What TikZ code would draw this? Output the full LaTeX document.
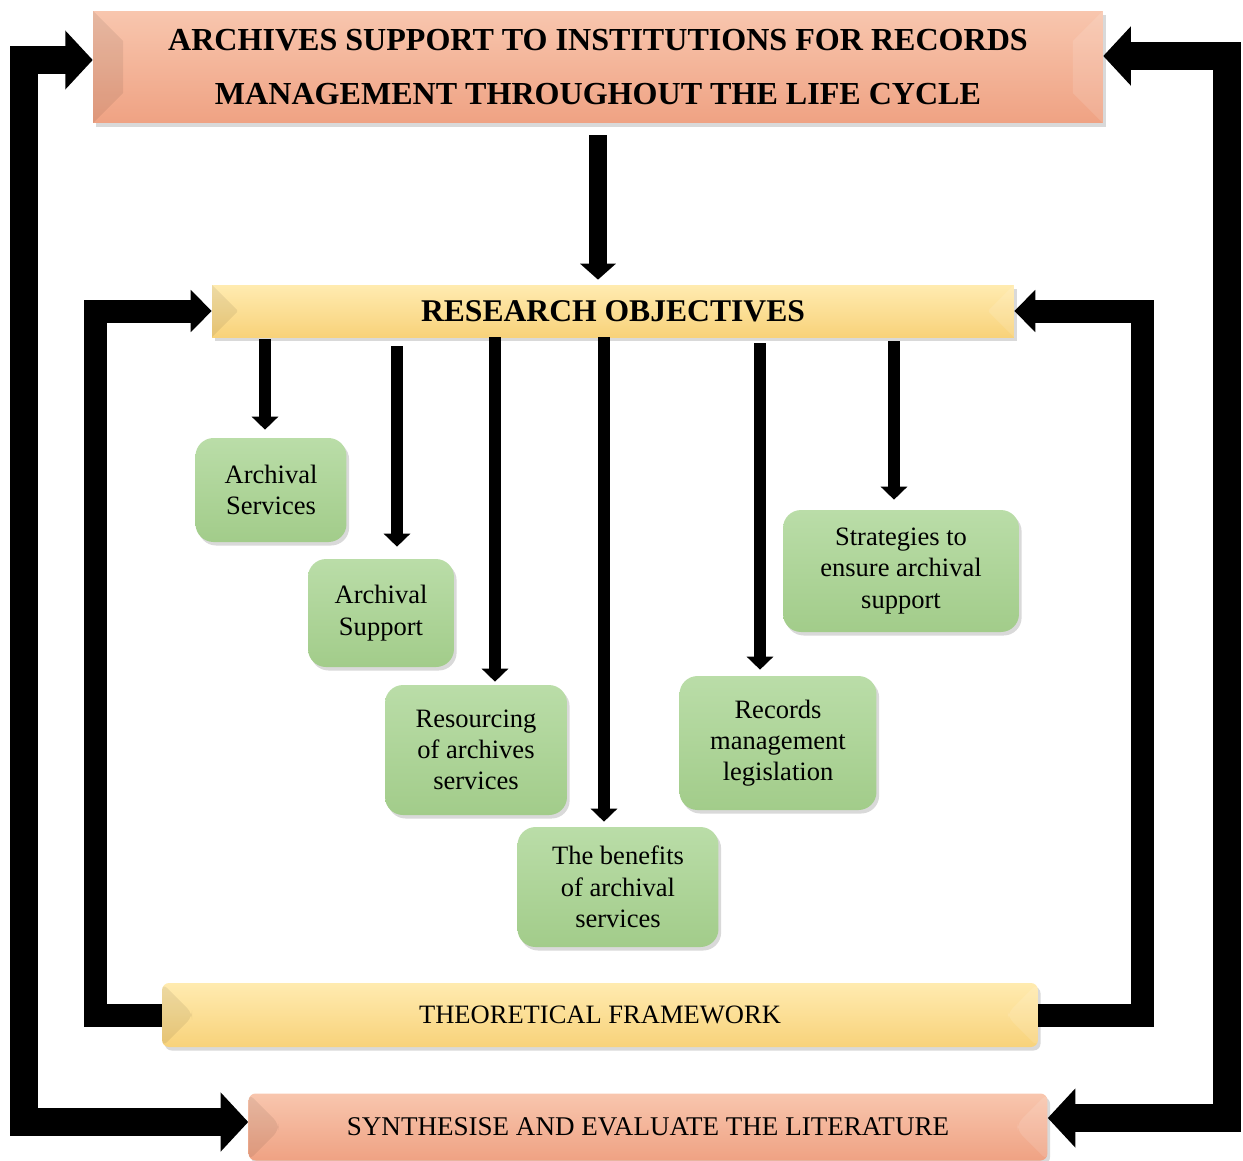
\documentclass[tikz,border=0pt]{standalone}
\usepackage{fontspec}
\setmainfont{Liberation Serif}
\usepackage{tikz}
\usetikzlibrary{arrows.meta,shadows}

\definecolor{salmontop}{HTML}{F8C6AE}
\definecolor{salmonbot}{HTML}{EFA283}
\definecolor{goldtop}{HTML}{FFEBB0}
\definecolor{goldbot}{HTML}{F8D27A}
\definecolor{leaftop}{HTML}{BADDA8}
\definecolor{leafbot}{HTML}{A2CC8A}

\tikzset{
  bevel/.style={path picture={
    \coordinate (bnw) at (path picture bounding box.north west);
    \coordinate (bse) at (path picture bounding box.south east);
    \fill[black,opacity=.07] (bnw) -- ([shift={(#1,-#1)}]bnw)
      -- ([shift={(#1,#1)}]bnw |- bse) -- (bnw |- bse) -- cycle;
    \fill[white,opacity=.12] (bnw -| bse) -- ([shift={(-#1,-#1)}]bnw -| bse)
      -- ([shift={(-#1,#1)}]bse) -- (bse) -- cycle;
  }},
  boxshadow/.style={drop shadow={shadow xshift=1.5pt,shadow yshift=-2pt,opacity=.3}},
  salmonbox/.style={top color=salmontop, bottom color=salmonbot, boxshadow,
    inner sep=0pt, align=center},
  goldbox/.style={top color=goldtop, bottom color=goldbot, boxshadow,
    inner sep=0pt, align=center},
  leafbox/.style={top color=leaftop, bottom color=leafbot, boxshadow,
    rounded corners=.36cm, inner sep=0pt, align=center,
    font=\fontsize{15.1}{17.8}\selectfont},
  outerlink/.style={line width=.56cm, line join=miter,
    {Triangle[length=.55cm,width=1.15cm]}-{Triangle[length=.55cm,width=1.15cm]}},
  innerlink/.style={line width=.46cm, line join=miter,
    -{Triangle[length=.42cm,width=.82cm]}},
  mainarrow/.style={line width=.36cm, -{Triangle[length=.32cm,width=.7cm]}},
  objarrow/.style={line width=.24cm, -{Triangle[length=.26cm,width=.52cm]}}
}

\begin{document}
\begin{tikzpicture}[x=0.02cm, y=-0.02cm]

    \useasboundingbox (0,0) rectangle (1243,1160);

    % Riquadri principali
    \node[salmonbox, bevel=.6cm, minimum width=20.2cm, minimum height=2.24cm,
          font=\fontsize{18.25}{31}\selectfont\bfseries] (top) at (598,67)
        {ARCHIVES SUPPORT TO INSTITUTIONS FOR RECORDS\\MANAGEMENT THROUGHOUT THE LIFE CYCLE};
    \node[goldbox, bevel=.5cm, minimum width=16.04cm, minimum height=1.04cm,
          font=\fontsize{18}{22}\selectfont\bfseries] (ro) at (613,311)
        {RESEARCH OBJECTIVES};
    \node[goldbox, bevel=.6cm, rounded corners=.14cm, minimum width=17.52cm, minimum height=1.28cm,
          font=\fontsize{15.1}{18}\selectfont] (theory) at (600,1015)
        {THEORETICAL FRAMEWORK};
    \node[salmonbox, bevel=.6cm, rounded corners=.14cm, minimum width=15.98cm, minimum height=1.34cm,
          font=\fontsize{15.4}{18}\selectfont] (syn) at (648,1127)
        {SYNTHESISE AND EVALUATE THE LITERATURE};

    % Obiettivi
    \node[leafbox, minimum width=3.02cm, minimum height=2.08cm] (svc) at (271,490)
        {Archival\\Services};
    \node[leafbox, minimum width=2.92cm, minimum height=2.16cm] (sup) at (381,613)
        {Archival\\Support};
    \node[leafbox, minimum width=3.64cm, minimum height=2.6cm] (res) at (476,750)
        {Resourcing\\of archives\\services};
    \node[leafbox, minimum width=4.02cm, minimum height=2.4cm] (ben) at (618,887)
        {The benefits\\of archival\\services};
    \node[leafbox, minimum width=3.94cm, minimum height=2.68cm] (leg) at (778,743)
        {Records\\management\\legislation};
    \node[leafbox, minimum width=4.72cm, minimum height=2.44cm] (str) at (901,571)
        {Strategies to\\ensure archival\\support};

    % Frecce
    \draw[mainarrow, shorten <=.24cm, shorten >=.1cm] (top.south) -- (top.south |- ro.north);
    \foreach \n/\dx/\ga/\gb in {svc/-.12/.04/.16, sup/.32/.18/.24, res/.38/0/.06,
                                ben/-.28/0/.1, leg/-.36/.12/.12, str/-.14/.08/.2}
        \draw[objarrow, shorten <=\ga cm, shorten >=\gb cm]
            ([xshift=\dx cm]ro.south -| \n.north) -- ([xshift=\dx cm]\n.north);

    % Cicli
    \draw[innerlink] (theory.west) -- ++(-66,0) |- (ro.west);
    \draw[innerlink] (theory.east) -- ++(104,0) |- (ro.east);
    \draw[outerlink] ([yshift=.14cm]top.west) -- ++(-69,0) |- ([yshift=.1cm]syn.west);
    \draw[outerlink] ([yshift=.22cm]top.east) -- ++(124,0) |- ([yshift=.18cm]syn.east);

\end{tikzpicture}
\end{document}
